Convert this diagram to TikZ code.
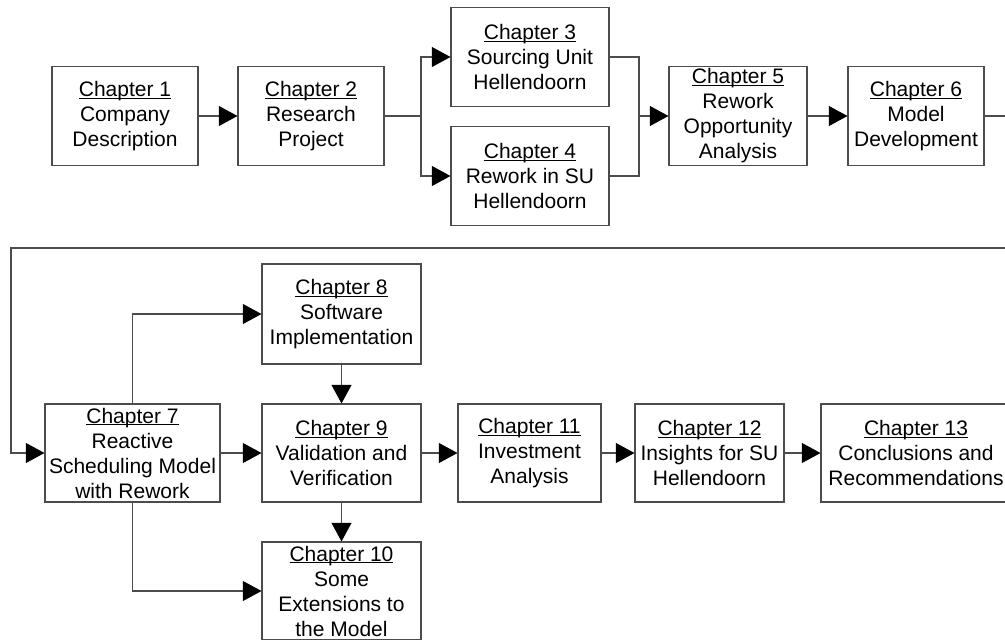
\documentclass[tikz,border=0pt]{standalone}
\usepackage{fontspec}
\setmainfont{Liberation Sans}
\usetikzlibrary{arrows.meta}

\tikzset{
  chapbox/.style={draw=black!70, line width=0.8pt, fill=white, inner sep=0pt,
    align=center, font=\fontsize{15.75pt}{18.75pt}\selectfont},
  link/.style={draw=black!70, line width=0.8pt},
  arr/.style={link, -{Triangle[length=14pt,width=15pt,color=black]}},
}
% chapter heading with a thin underline just below the baseline
\newcommand{\chap}[1]{\setbox0\hbox{Chapter #1}\rlap{\rule[-1.7pt]{\wd0}{0.7pt}}\box0}

\begin{document}
\begin{tikzpicture}[x=0.75pt, y=-0.75pt]
  \useasboundingbox (0,0) rectangle (1005,639);
  \clip (0,0) rectangle (1005,639);

  % upper row
  \node[chapbox, minimum width=146*0.75pt, minimum height=99*0.75pt] (c1) at (125,116) {\chap{1}\\Company\\Description};
  \node[chapbox, minimum width=146*0.75pt, minimum height=99*0.75pt] (c2) at (311,116) {\chap{2}\\Research\\Project};
  \node[chapbox, minimum width=158*0.75pt, minimum height=99*0.75pt] (c3) at (530,57) {\chap{3}\\Sourcing Unit\\Hellendoorn};
  \node[chapbox, minimum width=158*0.75pt, minimum height=99*0.75pt] (c4) at (530,176) {\chap{4}\\Rework in SU\\Hellendoorn};
  \node[chapbox, minimum width=138*0.75pt, minimum height=99*0.75pt] (c5) at (738,116) {\chap{5}\\Rework\\Opportunity\\Analysis};
  \node[chapbox, minimum width=136*0.75pt, minimum height=99*0.75pt] (c6) at (916,116) {\chap{6}\\Model\\Development};

  % lower part
  \node[chapbox, minimum width=175*0.75pt, minimum height=98*0.75pt] (c7) at (132.5,453) {\chap{7}\\Reactive\\Scheduling Model\\with Rework};
  \node[chapbox, minimum width=159*0.75pt, minimum height=100*0.75pt] (c8) at (341.5,314) {\chap{8}\\Software\\Implementation};
  \node[chapbox, minimum width=159*0.75pt, minimum height=98*0.75pt] (c9) at (341.5,453) {\chap{9}\\Validation and\\Verification};
  \node[chapbox, minimum width=159*0.75pt, minimum height=98*0.75pt] (c10) at (341.5,591) {\chap{10}\\Some\\Extensions to\\the Model};
  \node[chapbox, minimum width=143*0.75pt, minimum height=98*0.75pt] (c11) at (529.5,453) {\chap{11}\\Investment\\Analysis};
  \node[chapbox, minimum width=149*0.75pt, minimum height=98*0.75pt] (c12) at (709.5,453) {\chap{12}\\Insights for SU\\Hellendoorn};
  \node[chapbox, minimum width=190*0.75pt, minimum height=98*0.75pt] (c13) at (916,453) {\chap{13}\\Conclusions and\\Recommendations};

  % junctions and the return path
  \coordinate (split) at (421,116);
  \coordinate (merge) at (639,116);
  \coordinate (r1) at (1015,116);
  \coordinate (r2) at (1015,248);
  \coordinate (l1) at (11,248);

  \draw[arr] (c1) -- (c2);
  \draw[arr] (c2.east) -- (split) |- (c3.west);
  \draw[arr] (split) |- (c4.west);
  \draw[link] (c3.east) -| (merge);
  \draw[link] (c4.east) -| (merge);
  \draw[arr] (merge) -- (c5.west);
  \draw[arr] (c5) -- (c6);
  \draw[arr] (c6.east) -- (r1) -- (r2) -- (l1) |- (c7.west);

  \draw[arr] (c7.north) |- (c8.west);
  \draw[arr] (c7.south) |- (c10.west);
  \draw[arr] (c7) -- (c9);
  \draw[arr] (c8) -- (c9);
  \draw[arr] (c9) -- (c10);
  \draw[arr] (c9) -- (c11);
  \draw[arr] (c11) -- (c12);
  \draw[arr] (c12) -- (c13);
\end{tikzpicture}
\end{document}
